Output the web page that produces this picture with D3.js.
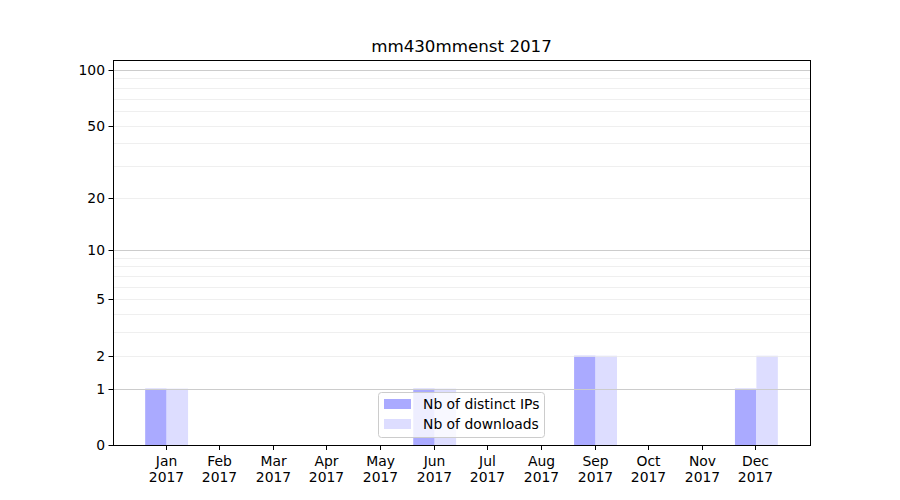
<!DOCTYPE html>
<html><head><meta charset="utf-8">
<script src="https://cdn.jsdelivr.net/npm/d3@7"></script>
<style>body{margin:0;background:#fff}svg text{font-family:"DejaVu Sans",sans-serif;fill:#000}</style>
</head><body><svg id="c" width="900" height="500"></svg>
<script>
const months = ["Jan","Feb","Mar","Apr","May","Jun","Jul","Aug","Sep","Oct","Nov","Dec"];
const year = "2017";
const distinctIPs = [1,0,0,0,0,1,0,0,2,0,0,1];
const downloads   = [1,0,0,0,0,1,0,0,2,0,0,2];
const yTicks = [0,1,2,5,10,20,50,100];
const majorGrid = [1,10,100];
const minorGrid = [2,3,4,5,6,7,8,9,20,30,40,50,60,70,80,90];
const title = "mm430mmenst 2017";
const seriesNames = ["Nb of distinct IPs","Nb of downloads"];
const colors = ["#aaaaff","#ddddff"];

const svg = d3.select("#c");
const L=113, R=810, T=60, B=445;
const x = d3.scaleLinear().domain([-1,12]).range([L,R]);
const f = v => Math.log10(1+v);
const yl = d3.scaleLinear().domain([0,f(113.2)]).range([B,T]);
const y = v => yl(f(v));

// bars
const bw = 0.4;
svg.append("g").selectAll("rect").data(distinctIPs).join("rect")
  .attr("x",(d,i)=>x(i-bw)).attr("width",(d,i)=>x(i)-x(i-bw))
  .attr("y",d=>y(d)).attr("height",d=>B-y(d)).attr("fill",colors[0]);
svg.append("g").selectAll("rect").data(downloads).join("rect")
  .attr("x",(d,i)=>x(i)).attr("width",(d,i)=>x(i+bw)-x(i))
  .attr("y",d=>y(d)).attr("height",d=>B-y(d)).attr("fill",colors[1]);

// grid
svg.append("g").selectAll("line").data(minorGrid).join("line")
  .attr("x1",L).attr("x2",R).attr("y1",d=>Math.round(y(d))+0.5).attr("y2",d=>Math.round(y(d))+0.5)
  .attr("stroke","#ebebeb").attr("stroke-width",0.8);
svg.append("g").selectAll("line").data(majorGrid).join("line")
  .attr("x1",L).attr("x2",R).attr("y1",d=>Math.round(y(d))+0.5).attr("y2",d=>Math.round(y(d))+0.5)
  .attr("stroke","#cccccc").attr("stroke-width",1);

// frame
svg.append("rect").attr("x",L+0.5).attr("y",T+0.5).attr("width",R-L).attr("height",B-T)
  .attr("fill","none").attr("stroke","#000").attr("stroke-width",1);

// y ticks
const yg = svg.append("g");
yTicks.forEach(t=>{
  const yy = Math.round(y(t))+0.5;
  yg.append("line").attr("x1",L-4.5).attr("x2",L).attr("y1",yy).attr("y2",yy).attr("stroke","#000");
  yg.append("text").attr("x",L-8).attr("y",yy).attr("dy","0.35em").attr("text-anchor","end")
    .attr("font-size","13.9px").text(t);
});
// x ticks
const xg = svg.append("g");
months.forEach((m,i)=>{
  const xx = Math.round(x(i))-0.5;
  xg.append("line").attr("x1",xx).attr("x2",xx).attr("y1",B).attr("y2",B+5).attr("stroke","#000");
  const t = xg.append("text").attr("x",xx).attr("text-anchor","middle").attr("font-size","13.9px");
  t.append("tspan").attr("x",xx).attr("y",466).text(m);
  t.append("tspan").attr("x",xx).attr("y",482).text(year);
});

// title
svg.append("text").attr("x",(L+R)/2).attr("y",52).attr("text-anchor","middle")
  .attr("font-size","16.7px").text(title);

// legend
const lg = svg.append("g");
lg.append("rect").attr("x",378.5).attr("y",392.5).attr("width",166).attr("height",45).attr("rx",3)
  .attr("fill","#fff").attr("fill-opacity",0.8).attr("stroke","#cccccc");
seriesNames.forEach((n,i)=>{
  const yy = 404 + i*20;
  lg.append("rect").attr("x",384).attr("y",yy-5).attr("width",27).attr("height",10).attr("fill",colors[i]);
  lg.append("text").attr("x",423).attr("y",yy).attr("dy","0.35em").attr("font-size","13.9px").text(n);
});
</script></body></html>
